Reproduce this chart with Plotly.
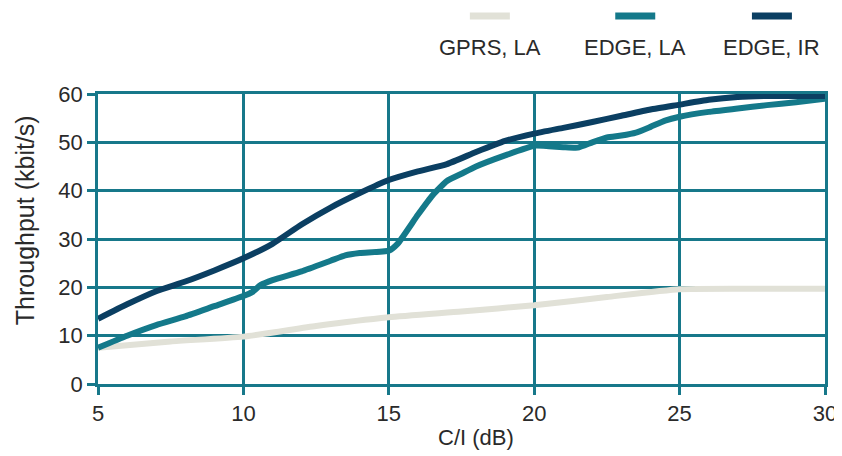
import plotly.graph_objects as go

# Data
gprs_x = [5, 7.5, 10, 12.5, 15, 17.5, 20, 22.5, 25, 27.5, 30]
gprs_y = [7.5, 8.8, 9.8, 12.0, 13.8, 15.0, 16.3, 18.0, 19.6, 19.7, 19.7]

edge_la_x = [5, 6, 7, 8, 9, 10, 10.3, 10.6, 11, 12, 13, 13.5, 14, 15, 15.3, 16, 16.5, 17, 17.5, 18, 19, 20, 20.5, 21, 21.5, 22, 22.5, 23, 23.5, 24, 24.5, 25, 26, 27, 28, 29, 30]
edge_la_y = [7.5, 10.0, 12.2, 14.0, 16.1, 18.2, 19.0, 20.5, 21.5, 23.3, 25.5, 26.6, 27.1, 27.6, 29.0, 35.0, 39.0, 42.0, 43.5, 45.0, 47.3, 49.3, 49.2, 49.0, 48.9, 50.0, 51.0, 51.4, 52.0, 53.2, 54.5, 55.3, 56.3, 57.0, 57.7, 58.3, 59.0]

edge_ir_x = [5, 6, 7, 8, 9, 10, 11, 12, 13, 14, 15, 16, 17, 18, 19, 20, 21, 22, 23, 24, 25, 26, 27, 28, 29, 30]
edge_ir_y = [13.5, 16.5, 19.2, 21.2, 23.5, 26.0, 29.0, 33.0, 36.5, 39.5, 42.2, 44.0, 45.5, 48.0, 50.3, 51.8, 53.0, 54.2, 55.5, 56.8, 57.8, 58.8, 59.4, 59.6, 59.6, 59.6]

series_names = ["GPRS, LA", "EDGE, LA", "EDGE, IR"]
series_colors = ["#e1e1d7", "#14798a", "#0b3f62"]

x_ticks = [5, 10, 15, 20, 25, 30]
y_ticks = [0, 10, 20, 30, 40, 50, 60]
x_title = "C/I (dB)"
y_title = "Throughput (kbit/s)"

grid_color = "#17788a"
text_color = "#2a2a2a"
font_family = "Liberation Sans, Arial, sans-serif"

fig = go.Figure()
for name, xs, ys, col in zip(series_names,
                             [gprs_x, edge_la_x, edge_ir_x],
                             [gprs_y, edge_la_y, edge_ir_y],
                             series_colors):
    fig.add_trace(go.Scatter(x=xs, y=ys, mode="lines", name=name,
                             line=dict(color=col, width=6, shape="spline", smoothing=0.5),
                             showlegend=False))

# Custom legend: swatch above label
legend_x = [0.539, 0.739, 0.927]
for name, col, lx in zip(series_names, series_colors, legend_x):
    fig.add_shape(type="line", xref="paper", yref="paper",
                  x0=lx - 0.0275, x1=lx + 0.0275, y0=1.269, y1=1.269,
                  line=dict(color=col, width=7))
    fig.add_annotation(text=name, xref="paper", yref="paper", x=lx, y=1.159,
                       showarrow=False, xanchor="center", yanchor="middle",
                       font=dict(size=22, color=text_color, family=font_family))

# Axis titles as annotations (positioned like the reference)
fig.add_annotation(text=x_title, xref="paper", yref="paper", x=0.52, y=-0.183,
                   showarrow=False, xanchor="center", yanchor="middle",
                   font=dict(size=22, color=text_color, family=font_family))
fig.add_annotation(text=y_title, xref="paper", yref="paper", x=-0.1, y=0.566,
                   showarrow=False, xanchor="center", yanchor="middle", textangle=-90,
                   font=dict(size=25, color=text_color, family=font_family))

axis_common = dict(showgrid=True, gridcolor=grid_color, gridwidth=2.5,
                   showline=True, linecolor=grid_color, linewidth=2.5, mirror=True,
                   ticks="outside", ticklen=8, tickwidth=2.5, tickcolor=grid_color,
                   zeroline=False, automargin=False, ticklabeloverflow="allow",
                   tickfont=dict(size=22, color=text_color, family=font_family))

fig.update_xaxes(range=[5, 30], tickvals=x_ticks, **axis_common)
fig.update_yaxes(range=[0, 60], tickvals=y_ticks, **axis_common)

# The page body adds an 8px margin; offset the figure size/margins to compensate
fig.update_layout(width=834, height=448,
                  margin=dict(l=90, r=17, t=86, b=72),
                  paper_bgcolor="white", plot_bgcolor="white",
                  font=dict(family=font_family))

fig.write_html("out.html")
